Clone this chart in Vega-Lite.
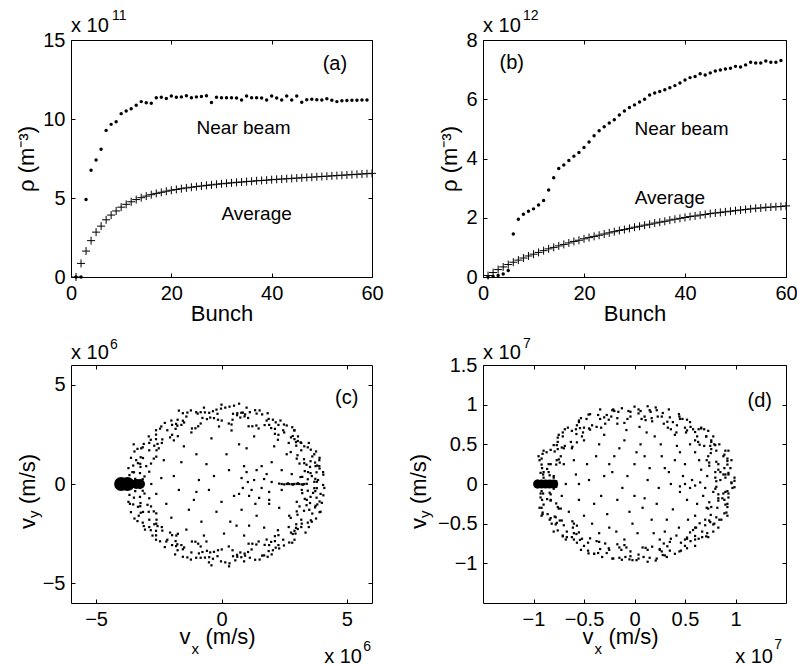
{
"$schema":"https://vega.github.io/schema/vega-lite/v6.json",
"background":"white",
"padding":{"left":15,"top":8,"right":5,"bottom":0},
"bounds":"flush",
"columns":2,
"spacing":{"row":88,"column":111},
"config":{
 "font":"Liberation Sans",
 "view":{"stroke":"black","strokeWidth":1},
 "axis":{"domain":false,"grid":false,"tickColor":"black","tickSize":-4,"tickWidth":1,"labelFont":"Liberation Sans","labelFontSize":20,"labelColor":"black","labelPadding":10,"labelFlush":false,"labelOverlap":false,"titleFont":"Liberation Sans","titleFontSize":22,"titleFontWeight":"normal","titleColor":"black","labelExpr":"format(datum.value, '~g')"},
 "text":{"font":"Liberation Sans","color":"black"}
},
"concat":[
 {"width":301,"height":237,
  "data":{"values":[
{"bunch":1,"near":0,"avg":0},{"bunch":2,"near":0,"avg":0.86},{"bunch":3,"near":4.9,"avg":1.64},{"bunch":4,"near":6.75,"avg":2.3},{"bunch":5,"near":7.4,"avg":2.84},{"bunch":6,"near":8.08,"avg":3.22},{"bunch":7,"near":9.28,"avg":3.62},{"bunch":8,"near":9.66,"avg":3.92},{"bunch":9,"near":9.83,"avg":4.18},{"bunch":10,"near":10.34,"avg":4.42},
{"bunch":11,"near":10.5,"avg":4.6},{"bunch":12,"near":10.65,"avg":4.76},{"bunch":13,"near":10.87,"avg":4.9},{"bunch":14,"near":11.1,"avg":5.02},{"bunch":15,"near":11.03,"avg":5.12},{"bunch":16,"near":11.0,"avg":5.21},{"bunch":17,"near":11.35,"avg":5.29},{"bunch":18,"near":11.37,"avg":5.36},{"bunch":19,"near":11.3,"avg":5.43},{"bunch":20,"near":11.45,"avg":5.49},
{"bunch":21,"near":11.37,"avg":5.54},{"bunch":22,"near":11.4,"avg":5.59},{"bunch":23,"near":11.47,"avg":5.64},{"bunch":24,"near":11.34,"avg":5.68},{"bunch":25,"near":11.4,"avg":5.72},{"bunch":26,"near":11.42,"avg":5.76},{"bunch":27,"near":11.47,"avg":5.8},{"bunch":28,"near":11.05,"avg":5.83},{"bunch":29,"near":11.38,"avg":5.87},{"bunch":30,"near":11.34,"avg":5.9},
{"bunch":31,"near":11.35,"avg":5.93},{"bunch":32,"near":11.35,"avg":5.96},{"bunch":33,"near":11.33,"avg":5.99},{"bunch":34,"near":11.2,"avg":6.01},{"bunch":35,"near":11.45,"avg":6.04},{"bunch":36,"near":11.35,"avg":6.06},{"bunch":37,"near":11.35,"avg":6.09},{"bunch":38,"near":11.33,"avg":6.11},{"bunch":39,"near":11.2,"avg":6.13},{"bunch":40,"near":11.45,"avg":6.16},
{"bunch":41,"near":11.33,"avg":6.18},{"bunch":42,"near":11.2,"avg":6.2},{"bunch":43,"near":11.45,"avg":6.22},{"bunch":44,"near":11.2,"avg":6.24},{"bunch":45,"near":11.45,"avg":6.26},{"bunch":46,"near":11.06,"avg":6.28},{"bunch":47,"near":11.22,"avg":6.3},{"bunch":48,"near":11.25,"avg":6.32},{"bunch":49,"near":11.22,"avg":6.34},{"bunch":50,"near":11.2,"avg":6.36},
{"bunch":51,"near":11.28,"avg":6.38},{"bunch":52,"near":11.18,"avg":6.4},{"bunch":53,"near":11.1,"avg":6.42},{"bunch":54,"near":11.15,"avg":6.44},{"bunch":55,"near":11.17,"avg":6.46},{"bunch":56,"near":11.18,"avg":6.48},{"bunch":57,"near":11.18,"avg":6.5},{"bunch":58,"near":11.2,"avg":6.52},{"bunch":59,"near":11.2,"avg":6.54},{"bunch":60,"avg":6.56}
  ]},
  "layer":[
   {"mark":{"type":"point","shape":"circle","filled":true,"size":12,"color":"black","opacity":1},
    "encoding":{
     "x":{"field":"bunch","type":"quantitative","scale":{"domain":[0,60],"nice":false,"zero":false},"axis":{"orient":"bottom","values":[0,20,40,60],"title":"Bunch","titlePadding":0}},
     "y":{"field":"near","type":"quantitative","scale":{"domain":[0,15],"nice":false},"axis":{"orient":"left","values":[0,5,10,15],"title":"ρ (m⁻³)","titlePadding":4}}}},
   {"mark":{"type":"point","shape":"M-1,0H1M0,-1V1","filled":false,"size":64,"color":"black","strokeWidth":1,"opacity":1},
    "encoding":{
     "x":{"field":"bunch","type":"quantitative","axis":{"orient":"top","values":[0,20,40,60],"labels":false,"title":null}},
     "y":{"field":"avg","type":"quantitative","axis":{"orient":"right","values":[0,5,10,15],"labels":false,"title":null}}}},
   {"data":{"values":[{}]},"mark":{"type":"text","fontSize":20,"align":"center","baseline":"middle"},"encoding":{"x":{"datum":52.6,"type":"quantitative","axis":null},"y":{"datum":13.5,"type":"quantitative","axis":null},"text":{"value":"(a)"}}},
   {"data":{"values":[{}]},"mark":{"type":"text","fontSize":19,"align":"center","baseline":"middle"},"encoding":{"x":{"datum":34.4,"type":"quantitative","axis":null},"y":{"datum":9.45,"type":"quantitative","axis":null},"text":{"value":"Near beam"}}},
   {"data":{"values":[{}]},"mark":{"type":"text","fontSize":19,"align":"center","baseline":"middle"},"encoding":{"x":{"datum":37,"type":"quantitative","axis":null},"y":{"datum":3.98,"type":"quantitative","axis":null},"text":{"value":"Average"}}},
   {"data":{"values":[{}]},"mark":{"type":"text","fontSize":20,"align":"left","baseline":"alphabetic","dy":-8},"encoding":{"x":{"datum":0,"type":"quantitative","axis":null},"y":{"datum":15,"type":"quantitative","axis":null},"text":{"value":"x 10"}}},
   {"data":{"values":[{}]},"mark":{"type":"text","fontSize":14,"align":"left","baseline":"alphabetic","dx":41,"dy":-20},"encoding":{"x":{"datum":0,"type":"quantitative","axis":null},"y":{"datum":15,"type":"quantitative","axis":null},"text":{"value":"11"}}}
  ],
  "resolve":{"axis":{"x":"independent","y":"independent"}}
 },
 {"width":303,"height":237,
  "data":{"values":[
{"bunch":1,"near":0,"avg":0.05},{"bunch":2,"near":0.02,"avg":0.15},{"bunch":3,"near":0.05,"avg":0.25},{"bunch":4,"near":0.1,"avg":0.34},{"bunch":5,"near":0.22,"avg":0.42},{"bunch":6,"near":1.45,"avg":0.5},{"bunch":7,"near":1.95,"avg":0.57},{"bunch":8,"near":2.12,"avg":0.64},{"bunch":9,"near":2.22,"avg":0.71},{"bunch":10,"near":2.3,"avg":0.77},
{"bunch":11,"near":2.43,"avg":0.83},{"bunch":12,"near":2.58,"avg":0.89},{"bunch":13,"near":2.94,"avg":0.95},{"bunch":14,"near":3.35,"avg":1.0},{"bunch":15,"near":3.66,"avg":1.05},{"bunch":16,"near":3.78,"avg":1.1},{"bunch":17,"near":3.93,"avg":1.15},{"bunch":18,"near":4.08,"avg":1.2},{"bunch":19,"near":4.2,"avg":1.24},{"bunch":20,"near":4.37,"avg":1.29},
{"bunch":21,"near":4.56,"avg":1.33},{"bunch":22,"near":4.77,"avg":1.37},{"bunch":23,"near":4.94,"avg":1.41},{"bunch":24,"near":5.07,"avg":1.45},{"bunch":25,"near":5.2,"avg":1.49},{"bunch":26,"near":5.31,"avg":1.53},{"bunch":27,"near":5.47,"avg":1.57},{"bunch":28,"near":5.6,"avg":1.6},{"bunch":29,"near":5.72,"avg":1.64},{"bunch":30,"near":5.81,"avg":1.68},
{"bunch":31,"near":5.91,"avg":1.71},{"bunch":32,"near":6.0,"avg":1.75},{"bunch":33,"near":6.14,"avg":1.78},{"bunch":34,"near":6.21,"avg":1.82},{"bunch":35,"near":6.26,"avg":1.85},{"bunch":36,"near":6.32,"avg":1.88},{"bunch":37,"near":6.39,"avg":1.92},{"bunch":38,"near":6.46,"avg":1.95},{"bunch":39,"near":6.55,"avg":1.98},{"bunch":40,"near":6.65,"avg":2.01},
{"bunch":41,"near":6.73,"avg":2.04},{"bunch":42,"near":6.77,"avg":2.06},{"bunch":43,"near":6.86,"avg":2.09},{"bunch":44,"near":6.82,"avg":2.11},{"bunch":45,"near":6.89,"avg":2.14},{"bunch":46,"near":6.95,"avg":2.16},{"bunch":47,"near":6.99,"avg":2.18},{"bunch":48,"near":7.02,"avg":2.2},{"bunch":49,"near":7.05,"avg":2.22},{"bunch":50,"near":7.11,"avg":2.24},
{"bunch":51,"near":7.09,"avg":2.26},{"bunch":52,"near":7.16,"avg":2.28},{"bunch":53,"near":7.25,"avg":2.3},{"bunch":54,"near":7.22,"avg":2.32},{"bunch":55,"near":7.22,"avg":2.33},{"bunch":56,"near":7.29,"avg":2.35},{"bunch":57,"near":7.25,"avg":2.36},{"bunch":58,"near":7.25,"avg":2.37},{"bunch":59,"near":7.31,"avg":2.38},{"bunch":60,"avg":2.4}
  ]},
  "layer":[
   {"mark":{"type":"point","shape":"circle","filled":true,"size":12,"color":"black","opacity":1},
    "encoding":{
     "x":{"field":"bunch","type":"quantitative","scale":{"domain":[0,60],"nice":false,"zero":false},"axis":{"orient":"bottom","values":[0,20,40,60],"title":"Bunch","titlePadding":0}},
     "y":{"field":"near","type":"quantitative","scale":{"domain":[0,8],"nice":false},"axis":{"orient":"left","values":[0,2,4,6,8],"title":"ρ (m⁻³)","titlePadding":4}}}},
   {"mark":{"type":"point","shape":"M-1,0H1M0,-1V1","filled":false,"size":64,"color":"black","strokeWidth":1,"opacity":1},
    "encoding":{
     "x":{"field":"bunch","type":"quantitative","axis":{"orient":"top","values":[0,20,40,60],"labels":false,"title":null}},
     "y":{"field":"avg","type":"quantitative","axis":{"orient":"right","values":[0,2,4,6,8],"labels":false,"title":null}}}},
   {"data":{"values":[{}]},"mark":{"type":"text","fontSize":20,"align":"center","baseline":"middle"},"encoding":{"x":{"datum":5.7,"type":"quantitative","axis":null},"y":{"datum":7.23,"type":"quantitative","axis":null},"text":{"value":"(b)"}}},
   {"data":{"values":[{}]},"mark":{"type":"text","fontSize":19,"align":"center","baseline":"middle"},"encoding":{"x":{"datum":39.3,"type":"quantitative","axis":null},"y":{"datum":4.98,"type":"quantitative","axis":null},"text":{"value":"Near beam"}}},
   {"data":{"values":[{}]},"mark":{"type":"text","fontSize":19,"align":"center","baseline":"middle"},"encoding":{"x":{"datum":37,"type":"quantitative","axis":null},"y":{"datum":2.68,"type":"quantitative","axis":null},"text":{"value":"Average"}}},
   {"data":{"values":[{}]},"mark":{"type":"text","fontSize":20,"align":"left","baseline":"alphabetic","dy":-8},"encoding":{"x":{"datum":0,"type":"quantitative","axis":null},"y":{"datum":8,"type":"quantitative","axis":null},"text":{"value":"x 10"}}},
   {"data":{"values":[{}]},"mark":{"type":"text","fontSize":14,"align":"left","baseline":"alphabetic","dx":40,"dy":-20},"encoding":{"x":{"datum":0,"type":"quantitative","axis":null},"y":{"datum":8,"type":"quantitative","axis":null},"text":{"value":"12"}}}
  ],
  "resolve":{"axis":{"x":"independent","y":"independent"}}
 },
 {"width":301,"height":238,
  "layer":[
   {"data":{"values":[
{"vx":4.05,"vy":-0.05},{"vx":3.44,"vy":0.24},{"vx":3.79,"vy":0.59},{"vx":3.53,"vy":0.86},{"vx":3.91,"vy":1.32},{"vx":3.0,"vy":1.28},{"vx":3.44,"vy":1.85},{"vx":2.98,"vy":1.93},{"vx":2.91,"vy":2.26},{"vx":2.91,"vy":2.71},{"vx":2.27,"vy":2.48},{"vx":2.27,"vy":2.98},{"vx":1.9,"vy":2.98},{"vx":1.84,"vy":3.57},{"vx":1.23,"vy":2.91},{"vx":1.13,"vy":3.62},{"vx":0.75,"vy":3.35},{"vx":0.46,"vy":3.54},
{"vx":0.15,"vy":3.85},{"vx":-0.14,"vy":3.24},{"vx":-0.49,"vy":3.59},{"vx":-0.76,"vy":3.33},{"vx":-1.22,"vy":3.71},{"vx":-1.18,"vy":2.8},{"vx":-1.75,"vy":3.24},{"vx":-1.83,"vy":2.78},{"vx":-2.16,"vy":2.71},{"vx":-2.61,"vy":2.71},{"vx":-2.38,"vy":2.07},{"vx":-2.88,"vy":2.07},{"vx":-2.88,"vy":1.7},{"vx":-3.47,"vy":1.64},{"vx":-2.81,"vy":1.03},{"vx":-3.52,"vy":0.93},{"vx":-3.25,"vy":0.55},{"vx":-3.44,"vy":0.26},
{"vx":-3.75,"vy":-0.05},{"vx":-3.14,"vy":-0.34},{"vx":-3.49,"vy":-0.69},{"vx":-3.23,"vy":-0.96},{"vx":-3.61,"vy":-1.42},{"vx":-2.7,"vy":-1.38},{"vx":-3.14,"vy":-1.95},{"vx":-2.68,"vy":-2.03},{"vx":-2.61,"vy":-2.36},{"vx":-2.61,"vy":-2.81},{"vx":-1.97,"vy":-2.58},{"vx":-1.97,"vy":-3.08},{"vx":-1.6,"vy":-3.08},{"vx":-1.54,"vy":-3.67},{"vx":-0.93,"vy":-3.01},{"vx":-0.83,"vy":-3.72},{"vx":-0.45,"vy":-3.45},{"vx":-0.16,"vy":-3.64},
{"vx":0.15,"vy":-3.95},{"vx":0.44,"vy":-3.34},{"vx":0.79,"vy":-3.69},{"vx":1.06,"vy":-3.43},{"vx":1.52,"vy":-3.81},{"vx":1.48,"vy":-2.9},{"vx":2.05,"vy":-3.34},{"vx":2.13,"vy":-2.88},{"vx":2.46,"vy":-2.81},{"vx":2.91,"vy":-2.81},{"vx":2.68,"vy":-2.17},{"vx":3.18,"vy":-2.17},{"vx":3.18,"vy":-1.8},{"vx":3.77,"vy":-1.74},{"vx":3.11,"vy":-1.13},{"vx":3.82,"vy":-1.03},{"vx":3.55,"vy":-0.65},{"vx":3.74,"vy":-0.36},
{"vx":3.7,"vy":0.11},{"vx":4.06,"vy":0.47},{"vx":3.32,"vy":0.65},{"vx":3.73,"vy":1.08},{"vx":3.29,"vy":1.25},{"vx":3.56,"vy":1.73},{"vx":2.76,"vy":1.61},{"vx":3.04,"vy":2.17},{"vx":2.77,"vy":2.35},{"vx":2.82,"vy":2.86},{"vx":2.13,"vy":2.53},{"vx":2.16,"vy":3.11},{"vx":1.72,"vy":2.97},{"vx":1.62,"vy":3.51},{"vx":1.08,"vy":2.91},{"vx":0.94,"vy":3.51},{"vx":0.62,"vy":3.47},{"vx":0.32,"vy":3.9},
{"vx":0.01,"vy":3.2},{"vx":-0.34,"vy":3.67},{"vx":-0.58,"vy":3.27},{"vx":-1.01,"vy":3.62},{"vx":-1.04,"vy":2.81},{"vx":-1.54,"vy":3.19},{"vx":-1.76,"vy":2.94},{"vx":-2.26,"vy":3.08},{"vx":-2.05,"vy":2.35},{"vx":-2.61,"vy":2.49},{"vx":-2.55,"vy":2.02},{"vx":-3.1,"vy":2.02},{"vx":-2.6,"vy":1.38},{"vx":-3.22,"vy":1.35},{"vx":-3.24,"vy":1.02},{"vx":-3.71,"vy":0.8},{"vx":-3.07,"vy":0.38},{"vx":-3.6,"vy":0.12},
{"vx":-3.25,"vy":-0.2},{"vx":-3.67,"vy":-0.55},{"vx":-2.88,"vy":-0.72},{"vx":-3.33,"vy":-1.15},{"vx":-3.13,"vy":-1.41},{"vx":-3.35,"vy":-1.87},{"vx":-2.59,"vy":-1.8},{"vx":-2.82,"vy":-2.33},{"vx":-2.36,"vy":-2.35},{"vx":-2.45,"vy":-2.89},{"vx":-1.74,"vy":-2.51},{"vx":-1.81,"vy":-3.13},{"vx":-1.49,"vy":-3.2},{"vx":-1.36,"vy":-3.7},{"vx":-0.83,"vy":-3.15},{"vx":-0.66,"vy":-3.71},{"vx":-0.3,"vy":-3.42},{"vx":-0.02,"vy":-3.9},
{"vx":0.29,"vy":-3.15},{"vx":0.63,"vy":-3.67},{"vx":0.92,"vy":-3.51},{"vx":1.34,"vy":-3.82},{"vx":1.39,"vy":-3.05},{"vx":1.88,"vy":-3.38},{"vx":1.98,"vy":-2.92},{"vx":2.49,"vy":-3.1},{"vx":2.25,"vy":-2.33},{"vx":2.84,"vy":-2.52},{"vx":2.97,"vy":-2.21},{"vx":3.48,"vy":-2.17},{"vx":3.03,"vy":-1.55},{"vx":3.62,"vy":-1.49},{"vx":3.39,"vy":-1.07},{"vx":3.91,"vy":-0.88},{"vx":3.22,"vy":-0.46},{"vx":3.8,"vy":-0.21},
{"vx":-3.14,"vy":0.24},{"vx":-3.49,"vy":0.59},{"vx":-3.23,"vy":0.86},{"vx":-3.61,"vy":1.32},{"vx":-2.7,"vy":1.28},{"vx":-3.14,"vy":1.85},{"vx":-2.68,"vy":1.93},{"vx":-2.61,"vy":2.26},{"vx":-1.97,"vy":2.48},{"vx":-1.97,"vy":2.98},{"vx":-1.6,"vy":2.98},{"vx":-1.54,"vy":3.57},{"vx":-0.93,"vy":2.91},{"vx":-0.83,"vy":3.62},{"vx":-0.45,"vy":3.35},{"vx":-0.16,"vy":3.54},
{"vx":0.44,"vy":3.24},{"vx":0.79,"vy":3.59},{"vx":1.06,"vy":3.33},{"vx":1.52,"vy":3.71},{"vx":1.48,"vy":2.8},{"vx":2.05,"vy":3.24},{"vx":2.13,"vy":2.78},{"vx":2.46,"vy":2.71},{"vx":2.68,"vy":2.07},{"vx":3.18,"vy":2.07},{"vx":3.18,"vy":1.7},{"vx":3.77,"vy":1.64},{"vx":3.11,"vy":1.03},{"vx":3.82,"vy":0.93},{"vx":3.55,"vy":0.55},{"vx":3.74,"vy":0.26},
{"vx":3.44,"vy":-0.34},{"vx":3.79,"vy":-0.69},{"vx":3.53,"vy":-0.96},{"vx":3.91,"vy":-1.42},{"vx":3.0,"vy":-1.38},{"vx":3.44,"vy":-1.95},{"vx":2.98,"vy":-2.03},{"vx":2.91,"vy":-2.36},{"vx":2.27,"vy":-2.58},{"vx":2.27,"vy":-3.08},{"vx":1.9,"vy":-3.08},{"vx":1.84,"vy":-3.67},{"vx":1.23,"vy":-3.01},{"vx":1.13,"vy":-3.72},{"vx":0.75,"vy":-3.45},{"vx":0.46,"vy":-3.64},
{"vx":-0.14,"vy":-3.34},{"vx":-0.49,"vy":-3.69},{"vx":-0.76,"vy":-3.43},{"vx":-1.22,"vy":-3.81},{"vx":-1.18,"vy":-2.9},{"vx":-1.75,"vy":-3.34},{"vx":-1.83,"vy":-2.88},{"vx":-2.16,"vy":-2.81},{"vx":-2.38,"vy":-2.17},{"vx":-2.88,"vy":-2.17},{"vx":-2.88,"vy":-1.8},{"vx":-3.47,"vy":-1.74},{"vx":-2.81,"vy":-1.13},{"vx":-3.52,"vy":-1.03},{"vx":-3.25,"vy":-0.65},{"vx":-3.44,"vy":-0.36},
{"vx":3.7,"vy":-0.21},{"vx":4.06,"vy":-0.57},{"vx":3.32,"vy":-0.75},{"vx":3.73,"vy":-1.18},{"vx":3.29,"vy":-1.35},{"vx":3.56,"vy":-1.83},{"vx":2.76,"vy":-1.71},{"vx":3.04,"vy":-2.27},{"vx":2.77,"vy":-2.45},{"vx":2.82,"vy":-2.96},{"vx":2.13,"vy":-2.63},{"vx":2.16,"vy":-3.21},{"vx":1.72,"vy":-3.07},{"vx":1.62,"vy":-3.61},{"vx":1.08,"vy":-3.01},{"vx":0.94,"vy":-3.61},{"vx":0.62,"vy":-3.57},{"vx":0.32,"vy":-4.0},
{"vx":0.01,"vy":-3.3},{"vx":-0.34,"vy":-3.77},{"vx":-0.58,"vy":-3.37},{"vx":-1.01,"vy":-3.72},{"vx":-1.04,"vy":-2.91},{"vx":-1.54,"vy":-3.29},{"vx":-1.76,"vy":-3.04},{"vx":-2.26,"vy":-3.18},{"vx":-2.05,"vy":-2.45},{"vx":-2.61,"vy":-2.59},{"vx":-2.55,"vy":-2.12},{"vx":-3.1,"vy":-2.12},{"vx":-2.6,"vy":-1.48},{"vx":-3.22,"vy":-1.45},{"vx":-3.24,"vy":-1.12},{"vx":-3.71,"vy":-0.9},{"vx":-3.07,"vy":-0.48},{"vx":-3.6,"vy":-0.22},
{"vx":-3.25,"vy":0.1},{"vx":-3.67,"vy":0.45},{"vx":-2.88,"vy":0.62},{"vx":-3.33,"vy":1.05},{"vx":-3.13,"vy":1.31},{"vx":-3.35,"vy":1.77},{"vx":-2.59,"vy":1.7},{"vx":-2.82,"vy":2.23},{"vx":-2.36,"vy":2.25},{"vx":-2.45,"vy":2.79},{"vx":-1.74,"vy":2.41},{"vx":-1.81,"vy":3.03},{"vx":-1.49,"vy":3.1},{"vx":-1.36,"vy":3.6},{"vx":-0.83,"vy":3.05},{"vx":-0.66,"vy":3.61},{"vx":-0.3,"vy":3.32},{"vx":-0.02,"vy":3.8},
{"vx":0.29,"vy":3.05},{"vx":0.63,"vy":3.57},{"vx":0.92,"vy":3.41},{"vx":1.34,"vy":3.72},{"vx":1.39,"vy":2.95},{"vx":1.88,"vy":3.28},{"vx":1.98,"vy":2.82},{"vx":2.49,"vy":3.0},{"vx":2.25,"vy":2.23},{"vx":2.84,"vy":2.42},{"vx":2.97,"vy":2.11},{"vx":3.48,"vy":2.07},{"vx":3.03,"vy":1.45},{"vx":3.62,"vy":1.39},{"vx":3.39,"vy":0.97},{"vx":3.91,"vy":0.78},{"vx":3.22,"vy":0.36},{"vx":3.8,"vy":0.11},
{"vx":3.6,"vy":0.4},{"vx":3.9,"vy":0.9},{"vx":3.4,"vy":-0.8},{"vx":3.95,"vy":-0.5},{"vx":3.7,"vy":1.5},{"vx":3.3,"vy":1.9},{"vx":3.85,"vy":0.2},{"vx":4.1,"vy":-0.2},{"vx":3.5,"vy":-1.3},{"vx":3.2,"vy":-2.0},{"vx":3.05,"vy":2.4},{"vx":3.75,"vy":-1.1},{"vx":3.45,"vy":0.6},{"vx":3.65,"vy":-0.45},{"vx":3.3,"vy":1.05},{"vx":3.9,"vy":1.2},{"vx":2.9,"vy":2.7},{"vx":2.6,"vy":2.95},{"vx":2.35,"vy":3.2},{"vx":1.4,"vy":3.55},{"vx":1.0,"vy":3.85},{"vx":0.5,"vy":3.95},{"vx":-0.2,"vy":3.75},{"vx":-0.7,"vy":3.85},
{"vx":-1.4,"vy":3.4},{"vx":-2.0,"vy":3.2},{"vx":-2.9,"vy":2.4},{"vx":-3.2,"vy":1.8},{"vx":-3.4,"vy":1.2},{"vx":-3.0,"vy":0.9},{"vx":-3.55,"vy":0.6},{"vx":-2.95,"vy":-1.05},{"vx":-3.3,"vy":-1.6},{"vx":-3.05,"vy":-2.3},{"vx":-2.2,"vy":-2.9},{"vx":-1.2,"vy":-3.45},{"vx":-0.5,"vy":-3.95},{"vx":0.3,"vy":-4.15},{"vx":0.9,"vy":-3.9},{"vx":1.7,"vy":-3.6},{"vx":2.3,"vy":-3.25},{"vx":2.7,"vy":-2.95},{"vx":3.35,"vy":-2.45},{"vx":3.6,"vy":-1.9},{"vx":3.95,"vy":-1.4},{"vx":4.05,"vy":0.6},{"vx":3.55,"vy":1.15},{"vx":3.15,"vy":0.35},
{"vx":3.2,"vy":-0.3},{"vx":3.0,"vy":-0.9},{"vx":-2.4,"vy":2.9},{"vx":-1.7,"vy":3.7},{"vx":-0.95,"vy":3.55},{"vx":0.0,"vy":4.0},{"vx":0.85,"vy":3.6},{"vx":1.8,"vy":3.2},{"vx":2.5,"vy":2.6},{"vx":3.15,"vy":2.1},{"vx":-3.65,"vy":-1.0},{"vx":-2.75,"vy":-2.6},{"vx":-1.85,"vy":-3.55},{"vx":-0.9,"vy":-3.5},{"vx":0.55,"vy":-3.85},{"vx":1.2,"vy":-3.3},{"vx":2.0,"vy":-3.55},{"vx":2.95,"vy":-2.5},{"vx":3.75,"vy":0.9},{"vx":4.0,"vy":-0.95},{"vx":-3.5,"vy":2.0},{"vx":-0.4,"vy":-4.1},{"vx":0.7,"vy":4.05},
{"vx":0.8,"vy":0.3},{"vx":1.0,"vy":0.6},{"vx":1.4,"vy":0.7},{"vx":1.8,"vy":0.5},{"vx":2.0,"vy":0.1},{"vx":1.9,"vy":-0.4},{"vx":1.5,"vy":-0.7},{"vx":1.1,"vy":-0.6},{"vx":0.85,"vy":-0.2},{"vx":1.3,"vy":0.2},{"vx":1.6,"vy":-0.2},{"vx":1.2,"vy":-0.3},{"vx":1.7,"vy":0.25},{"vx":1.05,"vy":0.1},{"vx":0.7,"vy":-0.5},{"vx":1.35,"vy":-1.0},{"vx":1.9,"vy":-0.8},
{"vx":2.3,"vy":0.02},{"vx":2.4,"vy":0.0},{"vx":2.5,"vy":-0.02},{"vx":2.6,"vy":0.0},{"vx":2.7,"vy":0.0},{"vx":2.8,"vy":-0.01},{"vx":2.9,"vy":0.0},{"vx":3.0,"vy":0.01},{"vx":3.1,"vy":0.0},{"vx":3.2,"vy":-0.02},{"vx":3.3,"vy":0.0},{"vx":3.4,"vy":0.01},{"vx":2.65,"vy":0.03},{"vx":2.85,"vy":-0.03},{"vx":3.05,"vy":0.03},{"vx":3.25,"vy":-0.03},
{"vx":-2.3,"vy":1.2},{"vx":-1.9,"vy":0.4},{"vx":-1.5,"vy":1.9},{"vx":-1.1,"vy":-0.8},{"vx":-0.6,"vy":1.0},{"vx":-0.2,"vy":-1.4},{"vx":0.3,"vy":0.7},{"vx":0.6,"vy":-2.1},{"vx":1.0,"vy":1.8},{"vx":1.4,"vy":-1.6},{"vx":2.0,"vy":1.1},{"vx":2.3,"vy":-1.2},{"vx":-2.6,"vy":-0.5},{"vx":-2.0,"vy":-1.7},{"vx":-1.4,"vy":-2.3},{"vx":-0.7,"vy":-2.6},{"vx":0.1,"vy":-2.5},{"vx":0.9,"vy":-2.6},{"vx":1.7,"vy":-2.2},{"vx":2.4,"vy":-0.3},
{"vx":-2.4,"vy":0.3},{"vx":-1.2,"vy":2.6},{"vx":-0.4,"vy":2.3},{"vx":0.4,"vy":2.7},{"vx":1.3,"vy":2.4},{"vx":2.1,"vy":1.9},{"vx":-1.7,"vy":-0.3},{"vx":-0.9,"vy":0.2},{"vx":-0.3,"vy":0.4},{"vx":0.5,"vy":-0.6},{"vx":0.2,"vy":1.5},{"vx":-0.8,"vy":-1.9},{"vx":1.6,"vy":0.9},{"vx":2.6,"vy":1.5},{"vx":-2.8,"vy":0.0},{"vx":-2.2,"vy":-1.0},{"vx":-1.0,"vy":1.5},{"vx":0.0,"vy":-0.9},{"vx":0.8,"vy":-1.3},{"vx":-0.5,"vy":-0.3},
{"vx":-1.6,"vy":1.1},{"vx":2.7,"vy":-1.6},{"vx":-2.5,"vy":1.8},{"vx":-1.3,"vy":-1.3},{"vx":0.7,"vy":2.0},{"vx":1.9,"vy":-1.0},{"vx":-0.1,"vy":2.9},{"vx":-2.9,"vy":-1.4},{"vx":1.1,"vy":-2.1},{"vx":2.4,"vy":0.7},{"vx":-1.9,"vy":2.2},{"vx":-0.6,"vy":-2.9},{"vx":0.35,"vy":-1.9},{"vx":-2.6,"vy":-2.0},{"vx":2.8,"vy":0.5},{"vx":-1.0,"vy":-0.4},{"vx":0.9,"vy":0.9},{"vx":1.8,"vy":-2.8},{"vx":-1.8,"vy":-2.6},{"vx":0.4,"vy":3.0}
   ]},
    "mark":{"type":"point","shape":"square","filled":true,"size":5,"color":"black","opacity":1,"strokeWidth":0},
    "encoding":{
     "x":{"field":"vx","type":"quantitative","scale":{"domain":[-6,6],"nice":false,"zero":false},"axis":{"orient":"bottom","values":[-5,0,5],"title":null}},
     "y":{"field":"vy","type":"quantitative","scale":{"domain":[-6,6],"nice":false,"zero":false},"axis":{"orient":"left","values":[-5,0,5],"title":null}}}},
   {"data":{"values":[{"vx":-4.0,"vy":0},{"vx":-3.75,"vy":0}]},
    "mark":{"type":"point","shape":"circle","filled":true,"size":200,"color":"black","opacity":1},
    "encoding":{
     "x":{"field":"vx","type":"quantitative","axis":{"orient":"top","values":[-5,0,5],"labels":false,"title":null}},
     "y":{"field":"vy","type":"quantitative","axis":{"orient":"right","values":[-5,0,5],"labels":false,"title":null}}}},
   {"data":{"values":[{"vx":-3.4,"vy":0},{"vx":-3.25,"vy":0}]},
    "mark":{"type":"point","shape":"circle","filled":true,"size":100,"color":"black","opacity":1},
    "encoding":{"x":{"field":"vx","type":"quantitative","axis":null},"y":{"field":"vy","type":"quantitative","axis":null}}},
   {"data":{"values":[{}]},"mark":{"type":"text","fontSize":20,"align":"center","baseline":"middle"},"encoding":{"x":{"datum":4.99,"type":"quantitative","axis":null},"y":{"datum":4.35,"type":"quantitative","axis":null},"text":{"value":"(c)"}}},
   {"data":{"values":[{}]},"mark":{"type":"text","fontSize":20,"align":"left","baseline":"alphabetic","dy":-6},"encoding":{"x":{"datum":-6,"type":"quantitative","axis":null},"y":{"datum":6,"type":"quantitative","axis":null},"text":{"value":"x 10"}}},
   {"data":{"values":[{}]},"mark":{"type":"text","fontSize":14,"align":"left","baseline":"alphabetic","dx":39,"dy":-16},"encoding":{"x":{"datum":-6,"type":"quantitative","axis":null},"y":{"datum":6,"type":"quantitative","axis":null},"text":{"value":"6"}}},
   {"data":{"values":[{}]},"mark":{"type":"text","fontSize":20,"align":"right","baseline":"alphabetic","dx":-10,"dy":60},"encoding":{"x":{"datum":6,"type":"quantitative","axis":null},"y":{"datum":-6,"type":"quantitative","axis":null},"text":{"value":"x 10"}}},
   {"data":{"values":[{}]},"mark":{"type":"text","fontSize":14,"align":"right","baseline":"alphabetic","dx":-1,"dy":48},"encoding":{"x":{"datum":6,"type":"quantitative","axis":null},"y":{"datum":-6,"type":"quantitative","axis":null},"text":{"value":"6"}}},
   {"data":{"values":[{}]},"mark":{"type":"text","fontSize":22,"align":"left","baseline":"alphabetic","dx":-42,"dy":41},"encoding":{"x":{"datum":0,"type":"quantitative","axis":null},"y":{"datum":-6,"type":"quantitative","axis":null},"text":{"value":"v"}}},
   {"data":{"values":[{}]},"mark":{"type":"text","fontSize":15,"align":"left","baseline":"alphabetic","dx":-30,"dy":51},"encoding":{"x":{"datum":0,"type":"quantitative","axis":null},"y":{"datum":-6,"type":"quantitative","axis":null},"text":{"value":"x"}}},
   {"data":{"values":[{}]},"mark":{"type":"text","fontSize":22,"align":"left","baseline":"alphabetic","dx":-16,"dy":41},"encoding":{"x":{"datum":0,"type":"quantitative","axis":null},"y":{"datum":-6,"type":"quantitative","axis":null},"text":{"value":"(m/s)"}}},
   {"data":{"values":[{}]},"mark":{"type":"text","fontSize":22,"align":"left","baseline":"alphabetic","angle":270,"dx":-45,"dy":-36},"encoding":{"x":{"datum":-6,"type":"quantitative","axis":null},"y":{"datum":0,"type":"quantitative","axis":null},"text":{"value":"v"}}},
   {"data":{"values":[{}]},"mark":{"type":"text","fontSize":15,"align":"left","baseline":"alphabetic","angle":270,"dx":-34,"dy":-32},"encoding":{"x":{"datum":-6,"type":"quantitative","axis":null},"y":{"datum":0,"type":"quantitative","axis":null},"text":{"value":"y"}}},
   {"data":{"values":[{}]},"mark":{"type":"text","fontSize":22,"align":"left","baseline":"alphabetic","angle":270,"dx":-20,"dy":-36},"encoding":{"x":{"datum":-6,"type":"quantitative","axis":null},"y":{"datum":0,"type":"quantitative","axis":null},"text":{"value":"(m/s)"}}}
  ],
  "resolve":{"axis":{"x":"independent","y":"independent"}}
 },
 {"width":303,"height":238,
  "layer":[
   {"data":{"values":[
{"vx":0,"vy":0.975},{"vx":0.07,"vy":0.82},{"vx":0.16,"vy":0.91},{"vx":0.23,"vy":0.85},{"vx":0.34,"vy":0.94},{"vx":0.33,"vy":0.71},{"vx":0.475,"vy":0.82},{"vx":0.5,"vy":0.71},{"vx":0.58,"vy":0.69},{"vx":0.69,"vy":0.69},{"vx":0.63,"vy":0.53},{"vx":0.76,"vy":0.53},{"vx":0.76,"vy":0.44},{"vx":0.9,"vy":0.42},{"vx":0.74,"vy":0.27},{"vx":0.92,"vy":0.245},{"vx":0.85,"vy":0.15},{"vx":0.9,"vy":0.08},
{"vx":0.96,"vy":0.01},{"vx":0.8,"vy":-0.06},{"vx":0.93,"vy":-0.17},{"vx":0.83,"vy":-0.21},{"vx":0.91,"vy":-0.36},{"vx":0.73,"vy":-0.31},{"vx":0.84,"vy":-0.45},{"vx":0.7,"vy":-0.52},{"vx":0.67,"vy":-0.6},{"vx":0.71,"vy":-0.66},{"vx":0.55,"vy":-0.61},{"vx":0.5,"vy":-0.78},{"vx":0.46,"vy":-0.74},{"vx":0.4,"vy":-0.88},{"vx":0.29,"vy":-0.75},{"vx":0.22,"vy":-0.94},{"vx":0.13,"vy":-0.83},{"vx":0.09,"vy":-0.92},
{"vx":-0.02,"vy":-0.96},{"vx":-0.08,"vy":-0.8},{"vx":-0.15,"vy":-0.93},{"vx":-0.25,"vy":-0.83},{"vx":-0.32,"vy":-0.92},{"vx":-0.35,"vy":-0.73},{"vx":-0.46,"vy":-0.84},{"vx":-0.52,"vy":-0.69},{"vx":-0.6,"vy":-0.7},{"vx":-0.67,"vy":-0.67},{"vx":-0.61,"vy":-0.55},{"vx":-0.78,"vy":-0.51},{"vx":-0.74,"vy":-0.46},{"vx":-0.92,"vy":-0.4},{"vx":-0.76,"vy":-0.29},{"vx":-0.9,"vy":-0.26},{"vx":-0.83,"vy":-0.13},{"vx":-0.92,"vy":-0.09},
{"vx":-0.96,"vy":0.02},{"vx":-0.8,"vy":0.08},{"vx":-0.93,"vy":0.14},{"vx":-0.83,"vy":0.25},{"vx":-0.92,"vy":0.32},{"vx":-0.73,"vy":0.35},{"vx":-0.8,"vy":0.49},{"vx":-0.69,"vy":0.48},{"vx":-0.71,"vy":0.6},{"vx":-0.66,"vy":0.71},{"vx":-0.51,"vy":0.65},{"vx":-0.55,"vy":0.78},{"vx":-0.42,"vy":0.74},{"vx":-0.44,"vy":0.88},{"vx":-0.29,"vy":0.76},{"vx":-0.22,"vy":0.93},{"vx":-0.17,"vy":0.83},{"vx":-0.06,"vy":0.92},
{"vx":0.04,"vy":0.89},{"vx":0.13,"vy":0.98},{"vx":0.175,"vy":0.79},{"vx":0.28,"vy":0.895},{"vx":0.325,"vy":0.785},{"vx":0.445,"vy":0.85},{"vx":0.415,"vy":0.65},{"vx":0.555,"vy":0.72},{"vx":0.6,"vy":0.655},{"vx":0.73,"vy":0.67},{"vx":0.645,"vy":0.495},{"vx":0.79,"vy":0.5},{"vx":0.755,"vy":0.39},{"vx":0.89,"vy":0.37},{"vx":0.74,"vy":0.23},{"vx":0.89,"vy":0.2},{"vx":0.88,"vy":0.12},{"vx":0.99,"vy":0.04},
{"vx":0.81,"vy":-0.035},{"vx":0.93,"vy":-0.12},{"vx":0.83,"vy":-0.18},{"vx":0.92,"vy":-0.29},{"vx":0.715,"vy":-0.3},{"vx":0.81,"vy":-0.42},{"vx":0.75,"vy":-0.48},{"vx":0.78,"vy":-0.6},{"vx":0.6,"vy":-0.55},{"vx":0.635,"vy":-0.69},{"vx":0.52,"vy":-0.675},{"vx":0.52,"vy":-0.81},{"vx":0.36,"vy":-0.69},{"vx":0.35,"vy":-0.84},{"vx":0.27,"vy":-0.85},{"vx":0.21,"vy":-0.965},{"vx":0.11,"vy":-0.805},{"vx":0.04,"vy":-0.94},
{"vx":-0.04,"vy":-0.85},{"vx":-0.125,"vy":-0.955},{"vx":-0.17,"vy":-0.76},{"vx":-0.275,"vy":-0.87},{"vx":-0.34,"vy":-0.82},{"vx":-0.455,"vy":-0.875},{"vx":-0.44,"vy":-0.685},{"vx":-0.57,"vy":-0.74},{"vx":-0.575,"vy":-0.63},{"vx":-0.71,"vy":-0.65},{"vx":-0.615,"vy":-0.47},{"vx":-0.77,"vy":-0.49},{"vx":-0.79,"vy":-0.41},{"vx":-0.91,"vy":-0.38},{"vx":-0.775,"vy":-0.245},{"vx":-0.915,"vy":-0.2},{"vx":-0.84,"vy":-0.11},{"vx":-0.96,"vy":-0.04},
{"vx":-0.775,"vy":0.035},{"vx":-0.905,"vy":0.12},{"vx":-0.865,"vy":0.19},{"vx":-0.94,"vy":0.3},{"vx":-0.75,"vy":0.31},{"vx":-0.83,"vy":0.43},{"vx":-0.72,"vy":0.46},{"vx":-0.76,"vy":0.585},{"vx":-0.57,"vy":0.525},{"vx":-0.62,"vy":0.67},{"vx":-0.54,"vy":0.705},{"vx":-0.53,"vy":0.83},{"vx":-0.375,"vy":0.72},{"vx":-0.36,"vy":0.87},{"vx":-0.255,"vy":0.81},{"vx":-0.21,"vy":0.94},{"vx":-0.1,"vy":0.77},{"vx":-0.04,"vy":0.91},
{"vx":-0.07,"vy":0.82},{"vx":-0.16,"vy":0.91},{"vx":-0.23,"vy":0.85},{"vx":-0.34,"vy":0.94},{"vx":-0.33,"vy":0.71},{"vx":-0.475,"vy":0.82},{"vx":-0.5,"vy":0.71},{"vx":-0.58,"vy":0.69},{"vx":-0.69,"vy":0.69},{"vx":-0.63,"vy":0.53},{"vx":-0.76,"vy":0.53},{"vx":-0.76,"vy":0.44},{"vx":-0.9,"vy":0.42},{"vx":-0.74,"vy":0.27},{"vx":-0.92,"vy":0.245},{"vx":-0.85,"vy":0.15},{"vx":-0.9,"vy":0.08},
{"vx":-0.96,"vy":0.01},{"vx":-0.8,"vy":-0.06},{"vx":-0.93,"vy":-0.17},{"vx":-0.83,"vy":-0.21},{"vx":-0.91,"vy":-0.36},{"vx":-0.73,"vy":-0.31},{"vx":-0.84,"vy":-0.45},{"vx":-0.7,"vy":-0.52},{"vx":-0.67,"vy":-0.6},{"vx":-0.71,"vy":-0.66},{"vx":-0.55,"vy":-0.61},{"vx":-0.5,"vy":-0.78},{"vx":-0.46,"vy":-0.74},{"vx":-0.4,"vy":-0.88},{"vx":-0.29,"vy":-0.75},{"vx":-0.22,"vy":-0.94},{"vx":-0.13,"vy":-0.83},{"vx":-0.09,"vy":-0.92},
{"vx":0.02,"vy":-0.96},{"vx":0.08,"vy":-0.8},{"vx":0.15,"vy":-0.93},{"vx":0.25,"vy":-0.83},{"vx":0.32,"vy":-0.92},{"vx":0.35,"vy":-0.73},{"vx":0.46,"vy":-0.84},{"vx":0.52,"vy":-0.69},{"vx":0.6,"vy":-0.7},{"vx":0.67,"vy":-0.67},{"vx":0.61,"vy":-0.55},{"vx":0.78,"vy":-0.51},{"vx":0.74,"vy":-0.46},{"vx":0.92,"vy":-0.4},{"vx":0.76,"vy":-0.29},{"vx":0.9,"vy":-0.26},{"vx":0.83,"vy":-0.13},{"vx":0.92,"vy":-0.09},
{"vx":0.96,"vy":0.02},{"vx":0.8,"vy":0.08},{"vx":0.93,"vy":0.14},{"vx":0.83,"vy":0.25},{"vx":0.92,"vy":0.32},{"vx":0.73,"vy":0.35},{"vx":0.8,"vy":0.49},{"vx":0.69,"vy":0.48},{"vx":0.71,"vy":0.6},{"vx":0.66,"vy":0.71},{"vx":0.51,"vy":0.65},{"vx":0.55,"vy":0.78},{"vx":0.42,"vy":0.74},{"vx":0.44,"vy":0.88},{"vx":0.29,"vy":0.76},{"vx":0.22,"vy":0.93},{"vx":0.17,"vy":0.83},{"vx":0.06,"vy":0.92},
{"vx":0.04,"vy":-0.89},{"vx":0.13,"vy":-0.98},{"vx":0.175,"vy":-0.79},{"vx":0.28,"vy":-0.895},{"vx":0.325,"vy":-0.785},{"vx":0.445,"vy":-0.85},{"vx":0.415,"vy":-0.65},{"vx":0.555,"vy":-0.72},{"vx":0.6,"vy":-0.655},{"vx":0.73,"vy":-0.67},{"vx":0.645,"vy":-0.495},{"vx":0.79,"vy":-0.5},{"vx":0.755,"vy":-0.39},{"vx":0.89,"vy":-0.37},{"vx":0.74,"vy":-0.23},{"vx":0.89,"vy":-0.2},{"vx":0.88,"vy":-0.12},{"vx":0.99,"vy":-0.04},
{"vx":0.81,"vy":0.035},{"vx":0.93,"vy":0.12},{"vx":0.83,"vy":0.18},{"vx":0.92,"vy":0.29},{"vx":0.715,"vy":0.3},{"vx":0.81,"vy":0.42},{"vx":0.75,"vy":0.48},{"vx":0.78,"vy":0.6},{"vx":0.6,"vy":0.55},{"vx":0.635,"vy":0.69},{"vx":0.52,"vy":0.675},{"vx":0.52,"vy":0.81},{"vx":0.36,"vy":0.69},{"vx":0.35,"vy":0.84},{"vx":0.27,"vy":0.85},{"vx":0.21,"vy":0.965},{"vx":0.11,"vy":0.805},{"vx":0.04,"vy":0.94},
{"vx":-0.04,"vy":0.85},{"vx":-0.125,"vy":0.955},{"vx":-0.17,"vy":0.76},{"vx":-0.275,"vy":0.87},{"vx":-0.34,"vy":0.82},{"vx":-0.455,"vy":0.875},{"vx":-0.44,"vy":0.685},{"vx":-0.57,"vy":0.74},{"vx":-0.575,"vy":0.63},{"vx":-0.71,"vy":0.65},{"vx":-0.615,"vy":0.47},{"vx":-0.77,"vy":0.49},{"vx":-0.79,"vy":0.41},{"vx":-0.91,"vy":0.38},{"vx":-0.775,"vy":0.245},{"vx":-0.915,"vy":0.2},{"vx":-0.84,"vy":0.11},{"vx":-0.96,"vy":0.04},
{"vx":-0.775,"vy":-0.035},{"vx":-0.905,"vy":-0.12},{"vx":-0.865,"vy":-0.19},{"vx":-0.94,"vy":-0.3},{"vx":-0.75,"vy":-0.31},{"vx":-0.83,"vy":-0.43},{"vx":-0.72,"vy":-0.46},{"vx":-0.76,"vy":-0.585},{"vx":-0.57,"vy":-0.525},{"vx":-0.62,"vy":-0.67},{"vx":-0.54,"vy":-0.705},{"vx":-0.53,"vy":-0.83},{"vx":-0.375,"vy":-0.72},{"vx":-0.36,"vy":-0.87},{"vx":-0.255,"vy":-0.81},{"vx":-0.21,"vy":-0.94},{"vx":-0.1,"vy":-0.77},{"vx":-0.04,"vy":-0.91},
{"vx":0.85,"vy":0.05},{"vx":0.9,"vy":-0.1},{"vx":0.95,"vy":0.2},{"vx":0.82,"vy":-0.3},{"vx":0.88,"vy":0.35},{"vx":0.97,"vy":-0.05},{"vx":0.8,"vy":0.15},{"vx":0.92,"vy":-0.25},{"vx":0.86,"vy":-0.45},{"vx":0.84,"vy":0.5},{"vx":0.9,"vy":0.12},{"vx":0.96,"vy":0.3},{"vx":0.78,"vy":-0.1},{"vx":0.87,"vy":-0.18},{"vx":0.93,"vy":0.42},{"vx":0.81,"vy":0.28},{"vx":0.99,"vy":0.08},{"vx":0.83,"vy":-0.55},{"vx":0.71,"vy":0.6},{"vx":0.76,"vy":0.55},
{"vx":0.72,"vy":-0.62},{"vx":0.66,"vy":0.7},{"vx":0.6,"vy":-0.78},{"vx":0.45,"vy":0.82},{"vx":0.3,"vy":-0.9},{"vx":0.15,"vy":0.93},{"vx":-0.05,"vy":-0.95},{"vx":-0.2,"vy":0.92},{"vx":-0.4,"vy":-0.88},{"vx":-0.55,"vy":0.8},{"vx":-0.68,"vy":-0.7},{"vx":-0.75,"vy":0.62},{"vx":-0.82,"vy":-0.5},{"vx":-0.87,"vy":0.4},{"vx":-0.92,"vy":-0.3},{"vx":-0.78,"vy":-0.42},{"vx":-0.85,"vy":0.25},{"vx":-0.8,"vy":0.1},{"vx":-0.9,"vy":0.15},{"vx":-0.83,"vy":-0.2},
{"vx":-0.95,"vy":0.35},{"vx":-0.77,"vy":0.3},{"vx":-0.86,"vy":-0.38},{"vx":-0.93,"vy":-0.12},{"vx":-0.8,"vy":-0.6},{"vx":0.1,"vy":0.85},{"vx":-0.3,"vy":0.84},{"vx":0.25,"vy":-0.82},{"vx":0.5,"vy":-0.7},{"vx":-0.6,"vy":-0.62},{"vx":0.62,"vy":0.6},{"vx":-0.15,"vy":-0.8},{"vx":0.38,"vy":0.78},{"vx":-0.45,"vy":0.7},{"vx":0.7,"vy":-0.45},{"vx":-0.7,"vy":0.45},
{"vx":-0.6,"vy":0.3},{"vx":-0.55,"vy":-0.2},{"vx":-0.5,"vy":0.55},{"vx":-0.45,"vy":0.05},{"vx":-0.42,"vy":-0.5},{"vx":-0.38,"vy":0.35},{"vx":-0.33,"vy":-0.15},{"vx":-0.3,"vy":0.62},{"vx":-0.27,"vy":-0.38},{"vx":-0.22,"vy":0.15},{"vx":-0.18,"vy":-0.6},{"vx":-0.15,"vy":0.45},{"vx":-0.12,"vy":-0.05},{"vx":-0.08,"vy":0.68},{"vx":-0.05,"vy":-0.35},{"vx":0.0,"vy":0.25},{"vx":0.03,"vy":-0.62},{"vx":0.06,"vy":0.5},{"vx":0.1,"vy":-0.18},{"vx":0.13,"vy":0.05},
{"vx":0.17,"vy":-0.45},{"vx":0.2,"vy":0.6},{"vx":0.24,"vy":-0.05},{"vx":0.27,"vy":0.35},{"vx":0.3,"vy":-0.6},{"vx":0.34,"vy":0.15},{"vx":0.38,"vy":-0.32},{"vx":0.42,"vy":0.48},{"vx":0.45,"vy":-0.1},{"vx":0.5,"vy":0.25},{"vx":0.53,"vy":-0.45},{"vx":0.57,"vy":0.05},{"vx":0.6,"vy":0.4},{"vx":0.62,"vy":-0.25},{"vx":0.66,"vy":0.18},{"vx":0.7,"vy":-0.05},{"vx":-0.68,"vy":0.0},{"vx":-0.65,"vy":-0.35},{"vx":-0.62,"vy":0.45},{"vx":-0.58,"vy":0.12},
{"vx":-0.5,"vy":-0.4},{"vx":-0.47,"vy":0.25},{"vx":-0.4,"vy":-0.25},{"vx":-0.35,"vy":0.5},{"vx":-0.3,"vy":0.1},{"vx":-0.25,"vy":-0.55},{"vx":-0.2,"vy":0.35},{"vx":-0.17,"vy":-0.2},{"vx":-0.1,"vy":0.55},{"vx":-0.07,"vy":0.1},{"vx":-0.02,"vy":-0.5},{"vx":0.02,"vy":0.4},{"vx":0.08,"vy":-0.3},{"vx":0.12,"vy":0.65},{"vx":0.15,"vy":0.2},{"vx":0.19,"vy":-0.62},{"vx":0.22,"vy":-0.25},{"vx":0.26,"vy":0.5},{"vx":0.32,"vy":-0.45},{"vx":0.36,"vy":0.0},
{"vx":0.4,"vy":0.3},{"vx":0.44,"vy":-0.55},{"vx":0.48,"vy":0.1},{"vx":0.52,"vy":-0.2},{"vx":0.55,"vy":0.5},{"vx":0.6,"vy":-0.4},{"vx":0.64,"vy":0.3},{"vx":0.68,"vy":-0.15},{"vx":0.72,"vy":0.1},{"vx":-0.72,"vy":-0.15},{"vx":-0.7,"vy":0.25},{"vx":-0.55,"vy":0.0},{"vx":0.3,"vy":0.2},{"vx":-0.1,"vy":-0.7},{"vx":0.05,"vy":0.72},{"vx":-0.35,"vy":-0.62},{"vx":0.4,"vy":0.62},{"vx":0.58,"vy":-0.58},{"vx":-0.52,"vy":0.6},{"vx":0.0,"vy":-0.15},
{"vx":0.1,"vy":0.35},{"vx":-0.25,"vy":0.25},{"vx":0.45,"vy":0.4},{"vx":-0.6,"vy":-0.5},{"vx":0.25,"vy":-0.7},{"vx":0.45,"vy":-0.03},{"vx":0.5,"vy":0.0},{"vx":0.55,"vy":-0.05},{"vx":0.6,"vy":-0.02},{"vx":0.65,"vy":0.02}
   ]},
    "mark":{"type":"point","shape":"square","filled":true,"size":5,"color":"black","opacity":1,"strokeWidth":0},
    "encoding":{
     "x":{"field":"vx","type":"quantitative","scale":{"domain":[-1.5,1.5],"nice":false,"zero":false},"axis":{"orient":"bottom","values":[-1,-0.5,0,0.5,1],"title":null}},
     "y":{"field":"vy","type":"quantitative","scale":{"domain":[-1.5,1.5],"nice":false,"zero":false},"axis":{"orient":"left","values":[-1,-0.5,0,0.5,1,1.5],"title":null}}}},
   {"data":{"values":[{"vx":-0.96,"vy":0},{"vx":-0.92,"vy":0},{"vx":-0.88,"vy":0},{"vx":-0.84,"vy":0},{"vx":-0.8,"vy":0}]},
    "mark":{"type":"point","shape":"circle","filled":true,"size":81,"color":"black","opacity":1},
    "encoding":{
     "x":{"field":"vx","type":"quantitative","axis":{"orient":"top","values":[-1,-0.5,0,0.5,1],"labels":false,"title":null}},
     "y":{"field":"vy","type":"quantitative","axis":{"orient":"right","values":[-1,-0.5,0,0.5,1,1.5],"labels":false,"title":null}}}},
   {"data":{"values":[{}]},"mark":{"type":"text","fontSize":20,"align":"center","baseline":"middle"},"encoding":{"x":{"datum":1.24,"type":"quantitative","axis":null},"y":{"datum":1.04,"type":"quantitative","axis":null},"text":{"value":"(d)"}}},
   {"data":{"values":[{}]},"mark":{"type":"text","fontSize":20,"align":"left","baseline":"alphabetic","dy":-6},"encoding":{"x":{"datum":-1.5,"type":"quantitative","axis":null},"y":{"datum":1.5,"type":"quantitative","axis":null},"text":{"value":"x 10"}}},
   {"data":{"values":[{}]},"mark":{"type":"text","fontSize":14,"align":"left","baseline":"alphabetic","dx":40,"dy":-17},"encoding":{"x":{"datum":-1.5,"type":"quantitative","axis":null},"y":{"datum":1.5,"type":"quantitative","axis":null},"text":{"value":"7"}}},
   {"data":{"values":[{}]},"mark":{"type":"text","fontSize":20,"align":"right","baseline":"alphabetic","dx":-13,"dy":60},"encoding":{"x":{"datum":1.5,"type":"quantitative","axis":null},"y":{"datum":-1.5,"type":"quantitative","axis":null},"text":{"value":"x 10"}}},
   {"data":{"values":[{}]},"mark":{"type":"text","fontSize":14,"align":"right","baseline":"alphabetic","dx":-4,"dy":46},"encoding":{"x":{"datum":1.5,"type":"quantitative","axis":null},"y":{"datum":-1.5,"type":"quantitative","axis":null},"text":{"value":"7"}}},
   {"data":{"values":[{}]},"mark":{"type":"text","fontSize":22,"align":"left","baseline":"alphabetic","dx":-52,"dy":41},"encoding":{"x":{"datum":0,"type":"quantitative","axis":null},"y":{"datum":-1.5,"type":"quantitative","axis":null},"text":{"value":"v"}}},
   {"data":{"values":[{}]},"mark":{"type":"text","fontSize":15,"align":"left","baseline":"alphabetic","dx":-40,"dy":51},"encoding":{"x":{"datum":0,"type":"quantitative","axis":null},"y":{"datum":-1.5,"type":"quantitative","axis":null},"text":{"value":"x"}}},
   {"data":{"values":[{}]},"mark":{"type":"text","fontSize":22,"align":"left","baseline":"alphabetic","dx":-26,"dy":41},"encoding":{"x":{"datum":0,"type":"quantitative","axis":null},"y":{"datum":-1.5,"type":"quantitative","axis":null},"text":{"value":"(m/s)"}}},
   {"data":{"values":[{}]},"mark":{"type":"text","fontSize":22,"align":"left","baseline":"alphabetic","angle":270,"dx":-45,"dy":-57},"encoding":{"x":{"datum":-1.5,"type":"quantitative","axis":null},"y":{"datum":0,"type":"quantitative","axis":null},"text":{"value":"v"}}},
   {"data":{"values":[{}]},"mark":{"type":"text","fontSize":15,"align":"left","baseline":"alphabetic","angle":270,"dx":-34,"dy":-53},"encoding":{"x":{"datum":-1.5,"type":"quantitative","axis":null},"y":{"datum":0,"type":"quantitative","axis":null},"text":{"value":"y"}}},
   {"data":{"values":[{}]},"mark":{"type":"text","fontSize":22,"align":"left","baseline":"alphabetic","angle":270,"dx":-20,"dy":-57},"encoding":{"x":{"datum":-1.5,"type":"quantitative","axis":null},"y":{"datum":0,"type":"quantitative","axis":null},"text":{"value":"(m/s)"}}}
  ],
  "resolve":{"axis":{"x":"independent","y":"independent"}}
 }
]
}
